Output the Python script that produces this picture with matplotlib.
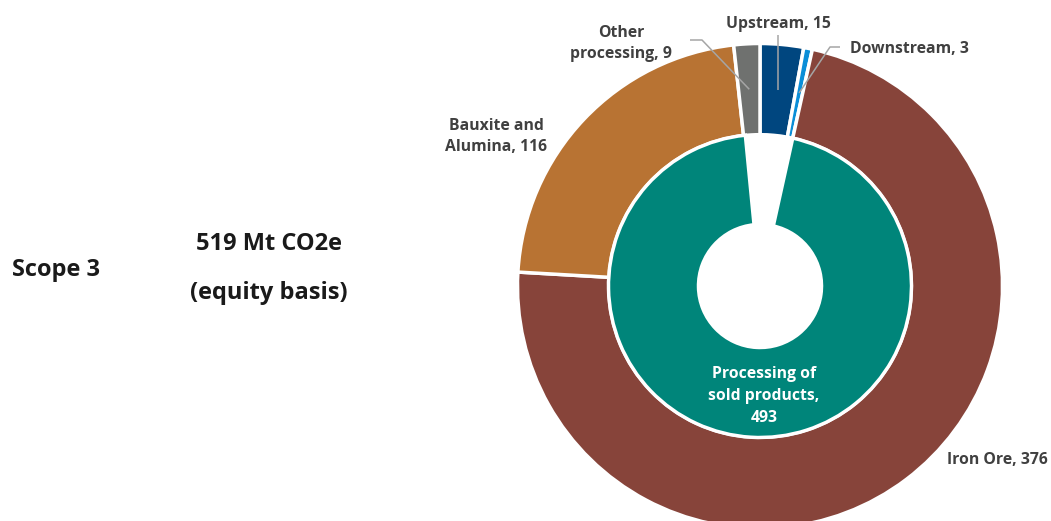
import matplotlib
matplotlib.use("Agg")
import matplotlib.pyplot as plt
import numpy as np

plt.rcParams["font.family"] = ["Open Sans", "DejaVu Sans"]

# Scope 3 emissions by category, Mt CO2e (equity basis)
outer_names = ["Upstream", "Downstream", "Iron Ore", "Bauxite and\nAlumina", "Other\nprocessing"]
outer_values = [15, 3, 376, 116, 9]
outer_colors = ["#00467F", "#0A8ED8", "#87443A", "#B87333", "#6F716F"]

processing_name = "Processing of\nsold products,"
processing_value = 493
processing_color = "#00857A"

scope_label = "Scope 3"
total_label = "519 Mt CO2e"
basis_label = "(equity basis)"

LABEL_COLOR = "#404040"
LEADER_COLOR = "#A5A5A5"

# canvas in pixels
W, H = 1051, 521
CX, CY = 760, 286          # doughnut centre (pixels from top-left)
HALF = 250

fig = plt.figure(figsize=(W / 100, H / 100), dpi=100)
ax = fig.add_axes([(CX - HALF) / W, (H - CY - HALF) / H, 2 * HALF / W, 2 * HALF / H])

edge = dict(edgecolor="white", linewidth=2.5)

# outer ring: individual categories
R_OUT, R_OUT_IN = 242.5, 151.3
ax.pie(outer_values, radius=R_OUT, startangle=90, counterclock=False,
       colors=outer_colors, wedgeprops=dict(width=R_OUT - R_OUT_IN, **edge))

# inner ring: processing of sold products, leaving the other categories open
total = sum(outer_values)
gap_right = outer_values[0] + outer_values[1]
gap_left = total - gap_right - processing_value
inner_values = [gap_right, processing_value, gap_left]
R_IN, R_HOLE = 151.5, 61.5
inner_wedges, _ = ax.pie(inner_values, radius=R_IN, startangle=90, counterclock=False,
                         colors=["white", processing_color, "white"],
                         wedgeprops=dict(width=R_IN - R_HOLE, **edge))
inner_wedges[0].set_visible(False)
inner_wedges[2].set_visible(False)

ax.set_xlim(-HALF, HALF)
ax.set_ylim(-HALF, HALF)
ax.set_aspect("equal")
ax.axis("off")


def data_xy(px, py):
    """Pixel position (top-left origin) to axes data units."""
    return px - CX, CY - py


def put_lines(lines, px, baselines, ha, color=LABEL_COLOR, size=11.3):
    for line, by in zip(lines, baselines):
        x, y = data_xy(px, by)
        ax.text(x, y, line, ha=ha, va="baseline", fontsize=size,
                fontweight="bold", color=color, clip_on=False)


def anchor(i, r=197):
    cum = np.concatenate([[0], np.cumsum(outer_values)])
    mid = (cum[i] + cum[i + 1]) / 2
    th = np.deg2rad(90 - mid / total * 360)
    return r * np.cos(th), r * np.sin(th)


def leader(points):
    xs, ys = zip(*points)
    ax.plot(xs, ys, color=LEADER_COLOR, lw=1.1, clip_on=False, solid_capstyle="butt")


def label_lines(i):
    return f"{outer_names[i]}, {outer_values[i]}".split("\n")


# Upstream
put_lines(label_lines(0), 778, [27.5], "center")
ax_, ay_ = anchor(0)
leader([(ax_, ay_), (ax_, data_xy(0, 35)[1])])

# Downstream
put_lines(label_lines(1), 850, [53], "left")
ax_, ay_ = anchor(1)
leader([(ax_, ay_), data_xy(830, 47), data_xy(840, 47)])

# Iron Ore
put_lines(label_lines(2), 947, [464], "left")

# Bauxite and Alumina
put_lines(label_lines(3), 496, [129.5, 151], "center")

# Other processing
put_lines(label_lines(4), 621, [36.7, 58], "center")
ax_, ay_ = anchor(4)
leader([(ax_, ay_), data_xy(702, 40), data_xy(690, 40)])

# Processing of sold products (inside the inner ring)
proc_lines = f"{processing_name}\n{processing_value}".split("\n")
put_lines(proc_lines, 764, [377.7, 400, 421.7], "center", color="white")

# headline text on the left
put_lines([scope_label], 12, [276], "left", color="#1A1A1A", size=17)
put_lines([total_label], 269.5, [250], "center", color="#1A1A1A", size=17)
put_lines([basis_label], 268.5, [299], "center", color="#1A1A1A", size=17)

fig.savefig("out.png", dpi=100, facecolor="white")
